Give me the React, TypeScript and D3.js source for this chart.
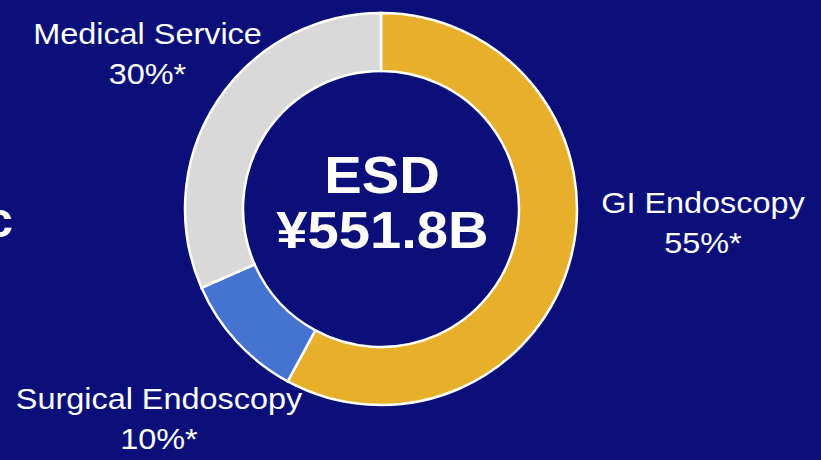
import React from "react";
import * as d3 from "d3";

const segments = ["GI Endoscopy", "Surgical Endoscopy", "Medical Service"];
const values = [55, 10, 30];
const percentLabels = ["55%*", "10%*", "30%*"];
const colors = ["#E8B02A", "#4573D2", "#D9D9D9"];
const centerTitle = "ESD";
const centerValue = "¥551.8B";

const W = 821;
const H = 460;
const BG = "#0A0F7A";
const FONT = "'Liberation Sans', Arial, sans-serif";
const SX = 1.08;

const labelPos: Record<string, [number, number]> = {
  "GI Endoscopy": [703, 213],
  "Surgical Endoscopy": [159, 409],
  "Medical Service": [147.5, 44],
};

function T({ x, y, size, bold, children }: any) {
  return (
    <text
      transform={`translate(${x},${y}) scale(${SX},1)`}
      textAnchor="middle"
      fill="#fff"
      fontFamily={FONT}
      fontWeight={bold ? "bold" : "normal"}
      fontSize={size}
    >
      {children}
    </text>
  );
}

export default function App() {
  const cx = 381;
  const cy = 209;
  const outerR = 196;
  const innerR = 138;
  const data = segments.map((s, i) => ({ name: s, value: values[i], color: colors[i], pct: percentLabels[i] }));
  const pie = d3.pie<any>().value((d) => d.value).sort(null);
  const arc = d3.arc<any>().innerRadius(innerR).outerRadius(outerR);
  const arcs = pie(data);
  return (
    <svg width={W} height={H} style={{ position: "absolute", left: 0, top: 0, display: "block" }}>
      <rect x={0} y={0} width={W} height={H} fill={BG} />
      <text x={13} y={237} textAnchor="end" fill="#fff" fontFamily={FONT} fontWeight="bold" fontSize={50}>c</text>
      <g transform={`translate(${cx},${cy})`}>
        {arcs.map((a, i) => (
          <path key={i} d={arc(a) as string} fill={a.data.color} stroke="#fff" strokeWidth={2.5} />
        ))}
      </g>
      <T x={cx + 1} y={cy - 16} size={52} bold>{centerTitle}</T>
      <T x={cx + 1.5} y={cy + 39} size={52} bold>{centerValue}</T>
      {data.map((d, i) => {
        const [x, y] = labelPos[d.name];
        return (
          <g key={i}>
            <T x={x} y={y} size={30}>{d.name}</T>
            <T x={x} y={y + 40} size={30}>{d.pct}</T>
          </g>
        );
      })}
    </svg>
  );
}
